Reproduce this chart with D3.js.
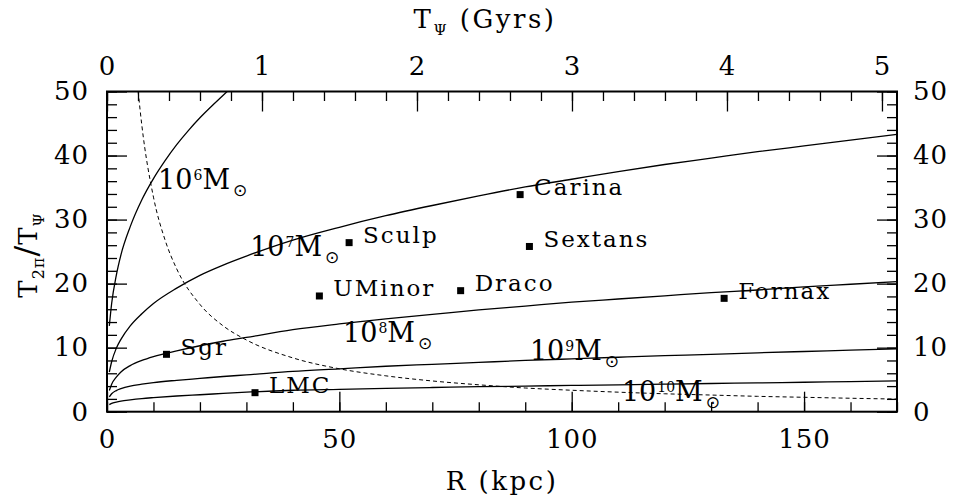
<!DOCTYPE html>
<html>
<head>
<meta charset="utf-8">
<script src="https://cdn.jsdelivr.net/npm/d3@7"></script>
<style>
  body { margin: 0; background: #fff; }
  svg { display: block; }
  text { font-family: "DejaVu Serif", "Liberation Serif", serif; fill: #000; }
</style>
</head>
<body>
<svg id="chart" width="955" height="504"></svg>
<script>
// Galactocentric radius grid (kpc) for the satellite-mass curves
const radiusKpc = [0.5, 1, 2, 3, 5, 7.5, 10, 15, 20, 25, 30, 40, 50, 60, 70, 80, 90, 100, 110, 120, 130, 140, 150, 160, 170];
// Radius grid for the 10^6 Msun curve, which leaves the panel near 27 kpc
const radius1e6 = [0.5, 1, 2, 3, 5, 7.5, 10, 12.5, 15, 17.5, 20, 22.5, 25, 27];

// T_2pi / T_psi for each satellite mass
const ratio1e6 = [13.4, 16.9, 21.3, 24.5, 28.9, 33.1, 36.4, 39.2, 41.7, 43.9, 45.9, 47.7, 49.4, 50.8];
const ratio1e7 = [6.2, 7.8, 9.9, 11.3, 13.4, 15.3, 16.9, 19.3, 21.3, 22.9, 24.3, 26.8, 28.8, 30.6, 32.2, 33.7, 35.1, 36.3, 37.5, 38.6, 39.6, 40.6, 41.5, 42.4, 43.3];
const ratio1e8 = [3.3, 4.3, 5.4, 6.2, 7.2, 8.0, 8.6, 9.5, 10.3, 11.0, 11.6, 12.8, 13.7, 14.5, 15.2, 15.9, 16.5, 17.1, 17.6, 18.1, 18.6, 19.0, 19.5, 19.9, 20.3];
const ratio1e9 = [2.3, 2.8, 3.3, 3.6, 4.0, 4.3, 4.55, 4.9, 5.2, 5.5, 5.75, 6.3, 6.7, 7.1, 7.4, 7.7, 8.0, 8.25, 8.5, 8.75, 8.95, 9.2, 9.4, 9.6, 9.8];
const ratio1e10 = [1.1, 1.3, 1.5, 1.65, 1.85, 2.05, 2.2, 2.45, 2.65, 2.85, 3.05, 3.35, 3.5, 3.65, 3.78, 3.9, 4.0, 4.1, 4.2, 4.3, 4.4, 4.5, 4.6, 4.7, 4.8];

// Dashed reference curve
const dashRadius = [6.7, 7.5, 10, 12.5, 15, 20, 25, 30, 40, 50, 60, 70, 80, 90, 100, 110, 120, 130, 140, 150, 160, 170];
const dashRatio = [50, 44.7, 33.5, 26.8, 22.3, 16.75, 13.4, 11.2, 8.4, 6.7, 5.6, 4.8, 4.2, 3.7, 3.35, 3.05, 2.8, 2.6, 2.4, 2.25, 2.1, 1.97];

// Mass-curve labels (exponent of 10 Msun) and their anchor points
const massExponents = ["6", "7", "8", "9", "10"];
const massLabelR = [11.0, 30.8, 50.8, 91.0, 110.8];
const massLabelT = [34.8, 24.3, 10.9, 8.07, 1.67];

// Milky Way satellites
const galaxyNames = ["Sgr", "LMC", "UMinor", "Draco", "Sculp", "Carina", "Sextans", "Fornax"];
const galaxyR = [12.8, 31.85, 45.7, 76.1, 52.1, 88.9, 90.9, 132.8];
const galaxyT = [8.96, 2.97, 18.07, 18.9, 26.4, 33.9, 25.8, 17.7];

// Axis ticks
const xMajorTicks = [0, 50, 100, 150];
const xMinorTicks = d3.range(0, 171, 10);
const yMajorTicks = [0, 10, 20, 30, 40, 50];
const yMinorTicks = d3.range(0, 51, 2);
const topMajorTicks = [0, 1, 2, 3, 4, 5];
const topMinorTicks = d3.range(0, 26).map(i => i * 0.2);

const svg = d3.select("#chart");
const plotL = 107, plotR = 897, plotT = 91.5, plotB = 411.7;

const x = d3.scaleLinear().domain([0, 170]).range([plotL, plotR]);
const xTop = d3.scaleLinear().domain([0, 5.097]).range([plotL, plotR]);
const y = d3.scaleLinear().domain([0, 50]).range([plotB, plotT]);

svg.append("defs").append("clipPath").attr("id", "plot-clip")
  .append("rect").attr("x", plotL).attr("y", plotT)
  .attr("width", plotR - plotL).attr("height", plotB - plotT);

// ---- axes (ticks point inward) ----
function styleAxis(g) {
  g.select(".domain").remove();
  g.selectAll(".tick line").attr("stroke", "#000").attr("stroke-width", 1.3);
  g.selectAll(".tick text").style("font-size", "26px").style("letter-spacing", "1px")
    .style("font-family", "'DejaVu Serif', serif");
}

svg.append("g").attr("transform", `translate(0,${plotB})`)
  .call(d3.axisBottom(x).tickValues(xMinorTicks).tickSize(-9.5).tickFormat(""))
  .call(styleAxis);
svg.append("g").attr("transform", `translate(0,${plotB})`)
  .call(d3.axisBottom(x).tickValues(xMajorTicks).tickSize(-20).tickPadding(18).tickFormat(d3.format("d")))
  .call(styleAxis);

svg.append("g").attr("transform", `translate(0,${plotT})`)
  .call(d3.axisTop(xTop).tickValues(topMinorTicks).tickSize(-9.5).tickFormat(""))
  .call(styleAxis);
svg.append("g").attr("transform", `translate(0,${plotT})`)
  .call(d3.axisTop(xTop).tickValues(topMajorTicks).tickSize(-20).tickPadding(17).tickFormat(d3.format("d")))
  .call(styleAxis);

svg.append("g").attr("transform", `translate(${plotL},0)`)
  .call(d3.axisLeft(y).tickValues(yMinorTicks).tickSize(-10).tickFormat(""))
  .call(styleAxis);
svg.append("g").attr("transform", `translate(${plotL},0)`)
  .call(d3.axisLeft(y).tickValues(yMajorTicks).tickSize(-20).tickPadding(18).tickFormat(d3.format("d")))
  .call(styleAxis);

svg.append("g").attr("transform", `translate(${plotR},0)`)
  .call(d3.axisRight(y).tickValues(yMinorTicks).tickSize(-10).tickFormat(""))
  .call(styleAxis);
svg.append("g").attr("transform", `translate(${plotR},0)`)
  .call(d3.axisRight(y).tickValues(yMajorTicks).tickSize(-20).tickPadding(16).tickFormat(d3.format("d")))
  .call(styleAxis);

// frame
svg.append("rect").attr("x", plotL).attr("y", plotT)
  .attr("width", plotR - plotL).attr("height", plotB - plotT)
  .attr("fill", "none").attr("stroke", "#000").attr("stroke-width", 2);

// ---- curves ----
const plot = svg.append("g").attr("clip-path", "url(#plot-clip)");
const line = d3.line().x(d => x(d[0])).y(d => y(d[1])).curve(d3.curveMonotoneX);

const massSeries = [
  d3.zip(radius1e6, ratio1e6),
  d3.zip(radiusKpc, ratio1e7),
  d3.zip(radiusKpc, ratio1e8),
  d3.zip(radiusKpc, ratio1e9),
  d3.zip(radiusKpc, ratio1e10)
];
plot.selectAll("path.mass").data(massSeries).join("path")
  .attr("class", "mass")
  .attr("d", line)
  .attr("fill", "none").attr("stroke", "#000").attr("stroke-width", 1.3);

plot.append("path")
  .attr("d", line(d3.zip(dashRadius, dashRatio)))
  .attr("fill", "none").attr("stroke", "#000").attr("stroke-width", 1)
  .attr("stroke-dasharray", "4,3");

// ---- satellites ----
const galaxies = galaxyNames.map((n, i) => ({ name: n, r: galaxyR[i], t: galaxyT[i] }));
svg.selectAll("rect.gal").data(galaxies).join("rect")
  .attr("class", "gal")
  .attr("x", d => x(d.r) - 3.5).attr("y", d => y(d.t) - 3.5)
  .attr("width", 7).attr("height", 7).attr("fill", "#000");
svg.selectAll("text.gal").data(galaxies).join("text")
  .attr("class", "gal")
  .attr("x", d => x(d.r) + 14).attr("y", d => y(d.t) + 0.5)
  .style("font-size", "23px").style("letter-spacing", "2px")
  .text(d => d.name);

// ---- mass labels: 10^n M_sun ----
massExponents.forEach((e, i) => {
  const t = svg.append("text")
    .attr("x", x(massLabelR[i])).attr("y", y(massLabelT[i]))
    .style("font-size", "27px");
  t.append("tspan").text("10");
  t.append("tspan").attr("dy", -9).attr("dx", 1).style("font-size", "14px").text(e);
  t.append("tspan").attr("dy", 9).text("M");
  t.append("tspan").attr("dy", 7).attr("dx", 3).style("font-size", "17px")
    .style("font-family", "'DejaVu Sans', sans-serif").text("\u2299");
});

// ---- axis titles ----
svg.append("text").attr("x", 502).attr("y", 490)
  .attr("text-anchor", "middle").style("font-size", "26px").style("letter-spacing", "2.5px")
  .text("R (kpc)");

const topTitle = svg.append("text").attr("x", 485).attr("y", 28)
  .attr("text-anchor", "middle").style("font-size", "26px").style("letter-spacing", "2.5px");
topTitle.append("tspan").text("T");
topTitle.append("tspan").attr("dy", 7).style("font-size", "15px").text("\u03A8");
topTitle.append("tspan").attr("dy", -7).text(" (Gyrs)");

const yTitle = svg.append("text")
  .attr("transform", "translate(37,255) rotate(-90)")
  .attr("text-anchor", "middle").style("font-size", "26px").style("letter-spacing", "1px");
yTitle.append("tspan").text("T");
yTitle.append("tspan").attr("dy", 7).style("font-size", "16px").text("2\u03C0");
yTitle.append("tspan").attr("dy", -7).style("font-size", "32px").text("/");
yTitle.append("tspan").text("T");
yTitle.append("tspan").attr("dy", 7).style("font-size", "15px").text("\u03A8");
</script>
</body>
</html>
